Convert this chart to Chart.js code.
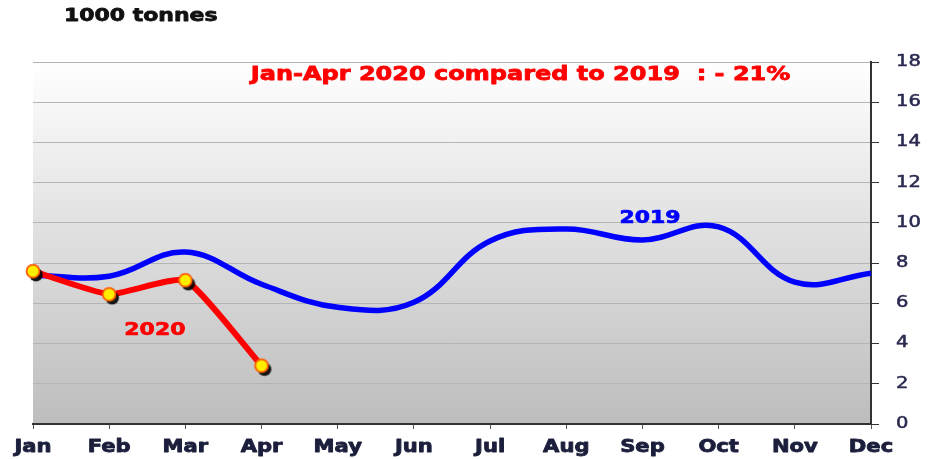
<!DOCTYPE html>
<html lang="en">
<head>
<meta charset="UTF-8">
<title>Monthly volumes 2019 vs 2020</title>
<script src="https://cdn.jsdelivr.net/npm/chart.js@4.4.1/dist/chart.umd.min.js"></script>
<style>
  html, body { margin: 0; padding: 0; background: #fff; }
  #wrap { position: relative; width: 939px; height: 459px; }
</style>
</head>
<body>
<div id="wrap"><canvas id="chart"></canvas></div>
<script>
// Monthly volumes, 1000 tonnes
const months = ["Jan", "Feb", "Mar", "Apr", "May", "Jun", "Jul", "Aug", "Sep", "Oct", "Nov", "Dec"];
const values2019 = [7.4, 7.35, 8.55, 6.95, 5.8, 6.05, 9.1, 9.7, 9.15, 9.8, 7.05, 7.5];
const values2020 = [7.6, 6.45, 7.15, 2.9];
const yTicks = [0, 2, 4, 6, 8, 10, 12, 14, 16, 18];

const FONT = "'DejaVu Sans', Verdana, sans-serif";

// yellow marker with a dark drop shadow
function makeMarker() {
  const c = document.createElement("canvas");
  c.width = 28; c.height = 28;
  const g = c.getContext("2d");
  g.fillStyle = "rgba(0,0,0,0.9)";
  g.beginPath(); g.arc(17, 17.5, 6.8, 0, Math.PI * 2); g.fill();
  g.fillStyle = "#ffee00";
  g.strokeStyle = "#ff5a00";
  g.lineWidth = 1.8;
  g.beginPath(); g.arc(14, 14, 6.4, 0, Math.PI * 2); g.fill(); g.stroke();
  return c;
}

// text drawn wider than the font's natural width, optionally thickened
function wideText(ctx, text, x, y, stretch, align, heavy) {
  ctx.save();
  ctx.translate(x, y);
  ctx.scale(stretch, 1);
  ctx.textAlign = align || "center";
  ctx.fillText(text, 0, 0);
  if (heavy) {
    ctx.strokeStyle = ctx.fillStyle;
    ctx.lineWidth = heavy;
    ctx.lineJoin = "round";
    ctx.strokeText(text, 0, 0);
  }
  ctx.restore();
}

const backdrop = {
  id: "backdrop",
  beforeDraw(chart) {
    const { ctx, chartArea: a } = chart;
    const grad = ctx.createLinearGradient(0, a.top, 0, a.bottom);
    grad.addColorStop(0, "#ffffff");
    grad.addColorStop(1, "#bdbdbd");
    ctx.save();
    ctx.fillStyle = grad;
    ctx.fillRect(a.left, a.top, a.right - a.left, a.bottom - a.top);
    ctx.restore();
  }
};

const labels = {
  id: "labels",
  afterDraw(chart) {
    const { ctx, scales: { x, y } } = chart;
    const at = (i, v) => [x.left + (x.right - x.left) * i / (months.length - 1), y.getPixelForValue(v)];
    ctx.save();
    ctx.textBaseline = "middle";

    // axis tick labels
    ctx.fillStyle = "#1c1f3c";
    ctx.font = "bold 17px " + FONT;
    x.ticks.forEach((t, i) => wideText(ctx, months[t.value], x.getPixelForTick(i), 448, 1.24, "center", 0.8));
    ctx.fillStyle = "#2a2a50";
    ctx.font = "15px " + FONT;
    y.ticks.forEach(t => wideText(ctx, String(t.value), 896, y.getPixelForValue(t.value), 1.3, "left", 0.5));

    // annotations
    ctx.font = "bold 20px " + FONT;
    ctx.fillStyle = "#ff0000";
    let [px, py] = at(6.4, 17.35);
    wideText(ctx, "Jan-Apr 2020 compared to 2019  : - 21%", px, py, 1.2, "center", 0.8);
    ctx.font = "bold 18px " + FONT;
    [px, py] = at(1.6, 4.65);
    wideText(ctx, "2020", px, py, 1.22, "center", 0.7);
    ctx.fillStyle = "#0000ff";
    [px, py] = at(8.1, 10.25);
    wideText(ctx, "2019", px, py, 1.22, "center", 0.7);
    ctx.font = "bold 18px " + FONT;
    ctx.fillStyle = "#111111";
    wideText(ctx, "1000 tonnes", 64, 16, 1.22, "left", 0.8);
    ctx.restore();
  }
};

new Chart(document.getElementById("chart"), {
  type: "line",
  data: {
    labels: months,
    datasets: [
      {
        label: "2020",
        data: values2020,
        borderColor: "#ff0000",
        borderWidth: 6,
        tension: 0.15,
        pointStyle: makeMarker(),
        pointRadius: 7,
        order: 0
      },
      {
        label: "2019",
        data: values2019,
        borderColor: "#0000ff",
        borderWidth: 5.5,
        tension: 0.4,
        pointRadius: 0,
        order: 1
      }
    ]
  },
  plugins: [backdrop, labels],
  options: {
    responsive: true,
    maintainAspectRatio: false,
    animation: false,
    layout: { padding: { left: 33, top: 62, right: 0, bottom: 0 } },
    plugins: { legend: { display: false }, tooltip: { enabled: false } },
    scales: {
      x: {
        offset: false,
        afterFit(s) { s.height = 35; },
        grid: { drawOnChartArea: false, drawTicks: true, tickLength: 5, tickColor: "#555" },
        border: { color: "#333", width: 2 },
        ticks: { color: "transparent", maxRotation: 0, autoSkip: false, font: { family: FONT, size: 15 } }
      },
      y: {
        position: "right",
        min: 0,
        max: 18,
        afterFit(s) { s.width = 68; },
        afterBuildTicks(s) { s.ticks = yTicks.map(v => ({ value: v })); },
        grid: { color: "#b4b4b4", lineWidth: 1, tickLength: 8, tickColor: "#333" },
        border: { color: "#333", width: 2 },
        ticks: { color: "transparent", font: { family: FONT, size: 15 } }
      }
    }
  }
});
</script>
</body>
</html>
